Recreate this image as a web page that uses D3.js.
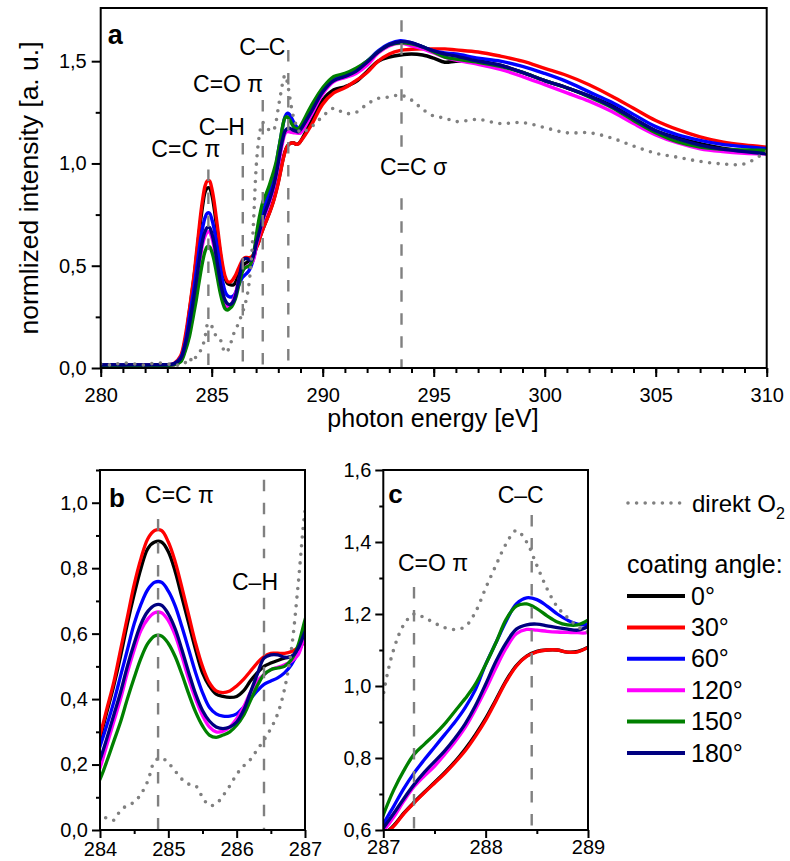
<!DOCTYPE html>
<html>
<head>
<meta charset="utf-8">
<script src="https://cdn.jsdelivr.net/npm/d3@7"></script>
<style>
  html, body { margin: 0; padding: 0; background: #fff; }
  svg { display: block; }
  text { font-family: "Liberation Sans", Arial, Helvetica, sans-serif; fill: #000; }
</style>
</head>
<body>
<svg id="chart" width="790" height="861"></svg>
<script>
// ---------------------------------------------------------------
// NEXAFS C K-edge spectra: photon energy grid (eV)
// ---------------------------------------------------------------
const energy = [
  280, 280.5, 281, 281.5, 282, 282.5, 283, 283.3, 283.6, 283.8,
  284.0, 284.1, 284.2, 284.3, 284.4, 284.5, 284.6, 284.7, 284.8, 284.9,
  285.0, 285.1, 285.2, 285.3, 285.4, 285.5, 285.6, 285.7, 285.8, 285.9,
  286.0, 286.1, 286.2, 286.3, 286.4, 286.5, 286.6, 286.7, 286.8, 286.9,
  287.0, 287.1, 287.2, 287.3, 287.4, 287.5, 287.6, 287.7, 287.8, 287.9,
  288.0, 288.1, 288.2, 288.3, 288.4, 288.5, 288.6, 288.7, 288.8, 288.9,
  289.0, 289.5, 290, 290.5, 291, 291.5, 292, 292.5, 293, 293.5,
  294, 294.5, 295, 295.5, 296, 297, 298, 299, 300, 301,
  302, 303, 304, 305, 306, 307, 308, 309, 310
];

// normalized intensity for each coating angle
const angle0 = [
  0.015, 0.015, 0.014, 0.016, 0.014, 0.015, 0.016, 0.02, 0.05, 0.13,
  0.28, 0.36, 0.44, 0.53, 0.63, 0.72, 0.80, 0.86, 0.88, 0.88,
  0.85, 0.79, 0.71, 0.63, 0.55, 0.48, 0.44, 0.415, 0.408, 0.405,
  0.408, 0.425, 0.455, 0.48, 0.50, 0.51, 0.518, 0.525, 0.53, 0.545,
  0.585, 0.612, 0.647, 0.677, 0.705, 0.732, 0.76, 0.79, 0.825, 0.865,
  0.91, 0.962, 1.015, 1.057, 1.083, 1.096, 1.10, 1.10, 1.094, 1.096,
  1.108, 1.21, 1.31, 1.36, 1.375, 1.40, 1.45, 1.50, 1.52, 1.53,
  1.535, 1.53, 1.515, 1.495, 1.50, 1.50, 1.48, 1.445, 1.405, 1.37,
  1.33, 1.285, 1.22, 1.16, 1.125, 1.097, 1.075, 1.06, 1.047
];
const angle30 = [
  0.014, 0.016, 0.015, 0.014, 0.016, 0.015, 0.015, 0.022, 0.06, 0.15,
  0.29, 0.37, 0.45, 0.55, 0.65, 0.75, 0.83, 0.89, 0.915, 0.915,
  0.88, 0.82, 0.74, 0.655, 0.57, 0.50, 0.45, 0.425, 0.42, 0.425,
  0.44, 0.46, 0.485, 0.51, 0.53, 0.54, 0.54, 0.54, 0.545, 0.558,
  0.585, 0.61, 0.645, 0.675, 0.703, 0.73, 0.757, 0.787, 0.82, 0.86,
  0.905, 0.958, 1.012, 1.055, 1.082, 1.095, 1.10, 1.10, 1.094, 1.095,
  1.107, 1.19, 1.29, 1.345, 1.37, 1.405, 1.445, 1.50, 1.535, 1.553,
  1.558, 1.56, 1.56, 1.56, 1.555, 1.545, 1.525, 1.50, 1.465, 1.43,
  1.385, 1.33, 1.27, 1.21, 1.165, 1.13, 1.105, 1.09, 1.08
];
const angle60 = [
  0.016, 0.015, 0.016, 0.015, 0.015, 0.016, 0.016, 0.02, 0.05, 0.12,
  0.255, 0.32, 0.39, 0.47, 0.55, 0.63, 0.69, 0.735, 0.757, 0.757,
  0.73, 0.685, 0.62, 0.55, 0.48, 0.42, 0.375, 0.355, 0.348, 0.348,
  0.355, 0.375, 0.40, 0.425, 0.445, 0.455, 0.465, 0.48, 0.505, 0.545,
  0.615, 0.665, 0.715, 0.758, 0.795, 0.83, 0.865, 0.90, 0.94, 0.99,
  1.06, 1.12, 1.18, 1.228, 1.245, 1.24, 1.222, 1.20, 1.183, 1.172,
  1.172, 1.268, 1.36, 1.415, 1.435, 1.46, 1.50, 1.55, 1.585, 1.60,
  1.59, 1.57, 1.55, 1.54, 1.535, 1.515, 1.50, 1.475, 1.44, 1.40,
  1.35, 1.30, 1.24, 1.18, 1.14, 1.113, 1.093, 1.082, 1.072
];
const angle120 = [
  0.012, 0.013, 0.012, 0.013, 0.012, 0.012, 0.012, 0.015, 0.035, 0.09,
  0.19, 0.26, 0.33, 0.40, 0.48, 0.55, 0.61, 0.645, 0.664, 0.664,
  0.64, 0.595, 0.53, 0.46, 0.40, 0.35, 0.315, 0.30, 0.302, 0.315,
  0.34, 0.375, 0.42, 0.455, 0.475, 0.49, 0.497, 0.505, 0.515, 0.535,
  0.595, 0.635, 0.68, 0.72, 0.75, 0.777, 0.81, 0.845, 0.885, 0.935,
  0.99, 1.05, 1.105, 1.145, 1.157, 1.155, 1.152, 1.15, 1.149, 1.148,
  1.149, 1.24, 1.34, 1.40, 1.42, 1.44, 1.48, 1.54, 1.575, 1.587,
  1.575, 1.56, 1.54, 1.52, 1.505, 1.485, 1.46, 1.425, 1.385, 1.345,
  1.305, 1.255, 1.195, 1.14, 1.10, 1.072, 1.058, 1.05, 1.047
];
const angle150 = [
  0.013, 0.012, 0.013, 0.012, 0.013, 0.013, 0.013, 0.015, 0.03, 0.08,
  0.155, 0.21, 0.27, 0.33, 0.40, 0.465, 0.525, 0.57, 0.593, 0.593,
  0.57, 0.53, 0.475, 0.415, 0.36, 0.318, 0.29, 0.283, 0.29, 0.30,
  0.32, 0.35, 0.395, 0.44, 0.475, 0.49, 0.495, 0.50, 0.52, 0.565,
  0.642, 0.71, 0.765, 0.81, 0.838, 0.865, 0.895, 0.93, 0.965, 1.005,
  1.06, 1.12, 1.185, 1.222, 1.228, 1.215, 1.195, 1.178, 1.17, 1.17,
  1.183, 1.285, 1.37, 1.425, 1.44, 1.465, 1.50, 1.545, 1.58, 1.59,
  1.585, 1.57, 1.545, 1.52, 1.51, 1.495, 1.475, 1.445, 1.405, 1.37,
  1.325, 1.275, 1.21, 1.15, 1.105, 1.08, 1.07, 1.066, 1.064
];
const angle180 = [
  0.015, 0.016, 0.015, 0.016, 0.015, 0.016, 0.016, 0.02, 0.045, 0.11,
  0.215, 0.28, 0.35, 0.42, 0.50, 0.57, 0.63, 0.668, 0.687, 0.687,
  0.66, 0.615, 0.55, 0.48, 0.415, 0.365, 0.333, 0.315, 0.31, 0.315,
  0.33, 0.365, 0.42, 0.475, 0.525, 0.535, 0.535, 0.528, 0.53, 0.555,
  0.605, 0.645, 0.687, 0.726, 0.76, 0.79, 0.82, 0.855, 0.895, 0.945,
  1.005, 1.068, 1.12, 1.158, 1.17, 1.172, 1.167, 1.162, 1.158, 1.155,
  1.165, 1.255, 1.35, 1.405, 1.425, 1.45, 1.495, 1.545, 1.58, 1.595,
  1.59, 1.57, 1.55, 1.535, 1.525, 1.50, 1.48, 1.445, 1.405, 1.37,
  1.33, 1.28, 1.22, 1.16, 1.12, 1.09, 1.07, 1.058, 1.047
];
// reference spectrum: direct O2 treatment
const direktO2 = [
  0.02, 0.015, 0.025, 0.02, 0.015, 0.025, 0.02, 0.015, 0.015, 0.025,
  0.05, 0.035, 0.03, 0.06, 0.075, 0.085, 0.11, 0.15, 0.21, 0.22,
  0.205, 0.18, 0.155, 0.14, 0.135, 0.10, 0.075, 0.08, 0.105, 0.135,
  0.17, 0.195, 0.215, 0.245, 0.275, 0.31, 0.355, 0.43, 0.55, 0.75,
  0.975, 1.10, 1.17, 1.20, 1.19, 1.175, 1.162, 1.157, 1.165, 1.205,
  1.272, 1.335, 1.395, 1.432, 1.40, 1.335, 1.27, 1.22, 1.19, 1.165,
  1.15, 1.18, 1.23, 1.27, 1.245, 1.25, 1.29, 1.318, 1.325, 1.334,
  1.31, 1.265, 1.232, 1.222, 1.205, 1.215, 1.195, 1.20, 1.175, 1.15,
  1.15, 1.125, 1.085, 1.05, 1.03, 1.01, 0.998, 0.998, 1.06
];

const seriesLabels = ["0°", "30°", "60°", "120°", "150°", "180°"];
const seriesValues = [angle0, angle30, angle60, angle120, angle150, angle180];
const seriesColors = ["#000000", "#ff0000", "#0000ff", "#ff00ff", "#008000", "#000080"];

// resonance positions (eV) and their labels
const resonanceEnergy = [284.85, 286.4, 287.3, 288.45, 293.55];
const resonanceLabel = ["C=C \u03c0", "C\u2013H", "C=O \u03c0", "C\u2013C", "C=C \u03c3"];

// axis ticks
const xTicksA = [280, 285, 290, 295, 300, 305, 310];
const yTicksA = [0, 0.5, 1.0, 1.5];
const xTicksB = [284, 285, 286, 287];
const yTicksB = [0, 0.2, 0.4, 0.6, 0.8, 1.0];
const xTicksC = [287, 288, 289];
const yTicksC = [0.6, 0.8, 1.0, 1.2, 1.4, 1.6];

// ---------------------------------------------------------------
const svg = d3.select("#chart");
const GREY = "#808080";
const comma = v => d3.format(".1f")(v).replace(".", ",");

const seriesData = seriesValues.map(vals => energy.map((e, i) => [e, vals[i]]));
const refData = energy.map((e, i) => [e, direktO2[i]]);

function range(a, b, step) {
  const out = [];
  for (let v = a; v <= b + 1e-9; v += step) out.push(+v.toFixed(4));
  return out;
}

function drawPanel(cfg) {
  const g = svg.append("g");
  const x = d3.scaleLinear().domain(cfg.xDomain).range([cfg.left, cfg.right]);
  const y = d3.scaleLinear().domain(cfg.yDomain).range([cfg.bottom, cfg.top]);

  const clipId = "clip-" + cfg.id;
  svg.append("clipPath").attr("id", clipId)
    .append("rect")
    .attr("x", cfg.left).attr("y", cfg.top)
    .attr("width", cfg.right - cfg.left).attr("height", cfg.bottom - cfg.top);

  const plot = g.append("g").attr("clip-path", `url(#${clipId})`);
  const line = d3.line()
    .x(d => x(d[0])).y(d => y(d[1]))
    .curve(d3.curveCatmullRom.alpha(0.5));

  // spectra for the coating angles
  plot.selectAll("path.spec")
    .data(seriesData)
    .join("path")
    .attr("class", "spec")
    .attr("d", line)
    .attr("fill", "none")
    .attr("stroke", (d, i) => seriesColors[i])
    .attr("stroke-width", cfg.lineWidth)
    .attr("stroke-linejoin", "round");

  // direct O2 reference (dotted)
  plot.append("path")
    .datum(refData)
    .attr("d", line)
    .attr("fill", "none")
    .attr("stroke", GREY)
    .attr("stroke-width", 3.6)
    .attr("stroke-linecap", "round")
    .attr("stroke-dasharray", "0,8.6");

  // resonance markers (dashed verticals)
  cfg.markers.forEach(m => {
    m.spans.forEach(([v0, v1]) => {
      plot.append("line")
        .attr("x1", x(resonanceEnergy[m.k])).attr("x2", x(resonanceEnergy[m.k]))
        .attr("y1", y(v1)).attr("y2", y(v0))
        .attr("stroke", GREY)
        .attr("stroke-width", 2.4)
        .attr("stroke-dasharray", "11.5,11.5");
    });
    g.append("text")
      .attr("x", x(resonanceEnergy[m.k]) + m.dx)
      .attr("y", m.ty)
      .attr("text-anchor", m.anchor || "start")
      .attr("font-size", cfg.annoSize)
      .text(resonanceLabel[m.k]);
  });

  // frame
  g.append("rect")
    .attr("x", cfg.left).attr("y", cfg.top)
    .attr("width", cfg.right - cfg.left).attr("height", cfg.bottom - cfg.top)
    .attr("fill", "none").attr("stroke", "#000").attr("stroke-width", 2);

  // axes: major + minor ticks, pointing outward
  const style = sel => {
    sel.select(".domain").remove();
    sel.selectAll(".tick line").attr("stroke", "#000").attr("stroke-width", 2);
    sel.selectAll(".tick text")
      .attr("font-size", cfg.tickSize)
      .attr("font-family", '"Liberation Sans", Arial, sans-serif');
  };

  g.append("g").attr("transform", `translate(0,${cfg.bottom})`)
    .call(d3.axisBottom(x).tickValues(cfg.xMinor).tickSize(cfg.minorLen).tickFormat(""))
    .call(style);
  g.append("g").attr("transform", `translate(0,${cfg.bottom})`)
    .call(d3.axisBottom(x).tickValues(cfg.xTicks).tickSize(cfg.majorLen)
      .tickPadding(cfg.xPad).tickFormat(cfg.xFormat))
    .call(style);
  g.append("g").attr("transform", `translate(${cfg.left},0)`)
    .call(d3.axisLeft(y).tickValues(cfg.yMinor).tickSize(cfg.minorLen).tickFormat(""))
    .call(style);
  g.append("g").attr("transform", `translate(${cfg.left},0)`)
    .call(d3.axisLeft(y).tickValues(cfg.yTicks).tickSize(cfg.majorLen)
      .tickPadding(cfg.yPad).tickFormat(comma))
    .call(style);

  // panel letter
  g.append("text")
    .attr("x", cfg.left + cfg.letterDx).attr("y", cfg.letterY)
    .attr("font-size", cfg.letterSize).attr("font-weight", "bold")
    .text(cfg.letter);

  return {x, y};
}

// panel a: full spectrum
drawPanel({
  id: "a", letter: "a", letterDx: 7, letterY: 44, letterSize: 27,
  left: 100.7, right: 766.7, top: 8, bottom: 368,
  xDomain: [280, 310], yDomain: [0, 1.76],
  xTicks: xTicksA, xMinor: range(280, 310, 1),
  yTicks: yTicksA, yMinor: [0.25, 0.75, 1.25],
  xFormat: d3.format("d"),
  majorLen: 9, minorLen: 5, xPad: 11, yPad: 5,
  tickSize: 20, annoSize: 23, lineWidth: 3.4,
  markers: [
    {k: 0, spans: [[0, 0.97]], dx: -57, ty: 157},
    {k: 1, spans: [[0, 1.10]], dx: 2, ty: 135, anchor: "end"},
    {k: 2, spans: [[0, 1.31]], dx: 0.5, ty: 92, anchor: "end"},
    {k: 3, spans: [[0, 1.555]], dx: -3, ty: 55, anchor: "end"},
    {k: 4, spans: [[0, 0.83], [1.08, 1.70]], dx: -21.5, ty: 175}
  ]
});

// panel b: C=C pi region
drawPanel({
  id: "b", letter: "b", letterDx: 9, letterY: 507, letterSize: 26,
  left: 100, right: 305, top: 470, bottom: 830,
  xDomain: [284, 287], yDomain: [0, 1.1],
  xTicks: xTicksB, xMinor: [284.5, 285.5, 286.5],
  yTicks: yTicksB, yMinor: range(0.1, 1.1, 0.2),
  xFormat: d3.format("d"),
  majorLen: 8, minorLen: 4, xPad: 4, yPad: 4,
  tickSize: 20, annoSize: 23, lineWidth: 3.3,
  markers: [
    {k: 0, spans: [[0, 0.95]], dx: -13, ty: 503},
    {k: 1, spans: [[0, 0.71], [0.83, 1.07]], dx: -32, ty: 590}
  ]
});

// panel c: C=O / C-C region
drawPanel({
  id: "c", letter: "c", letterDx: 5, letterY: 503, letterSize: 26,
  left: 383.3, right: 588, top: 470, bottom: 830,
  xDomain: [287, 289], yDomain: [0.6, 1.6],
  xTicks: xTicksC, xMinor: [287.5, 288.5],
  yTicks: yTicksC, yMinor: range(0.7, 1.5, 0.2),
  xFormat: d3.format("d"),
  majorLen: 8, minorLen: 4, xPad: 2, yPad: 4,
  tickSize: 20, annoSize: 23, lineWidth: 3.3,
  markers: [
    {k: 2, spans: [[0.6, 1.275]], dx: -16, ty: 571},
    {k: 3, spans: [[0.6, 1.475]], dx: -34, ty: 503}
  ]
});

// axis titles for panel a
svg.append("text")
  .attr("x", 433).attr("y", 427)
  .attr("text-anchor", "middle").attr("font-size", 25)
  .text("photon energy [eV]");
svg.append("text")
  .attr("transform", "translate(38,188) rotate(-90)")
  .attr("text-anchor", "middle").attr("font-size", 26.5)
  .text("normlized intensity [a. u.]");

// legend
const legend = svg.append("g");
legend.append("line")
  .attr("x1", 628).attr("x2", 680).attr("y1", 503).attr("y2", 503)
  .attr("stroke", GREY).attr("stroke-width", 3.6)
  .attr("stroke-linecap", "round").attr("stroke-dasharray", "0,8.6");
const o2 = legend.append("text").attr("x", 692).attr("y", 512).attr("font-size", 24);
o2.append("tspan").text("direkt O");
o2.append("tspan").attr("font-size", 16).attr("dy", 7).text("2");

legend.append("text").attr("x", 627).attr("y", 573).attr("font-size", 25)
  .text("coating angle:");
const rows = legend.selectAll("g.row")
  .data(seriesLabels)
  .join("g").attr("class", "row")
  .attr("transform", (d, i) => `translate(0,${596 + i * 31.4})`);
rows.append("line")
  .attr("x1", 627).attr("x2", 685)
  .attr("stroke", (d, i) => seriesColors[i]).attr("stroke-width", 4);
rows.append("text")
  .attr("x", 691).attr("y", 8.5).attr("font-size", 25)
  .text(d => d);
</script>
</body>
</html>
